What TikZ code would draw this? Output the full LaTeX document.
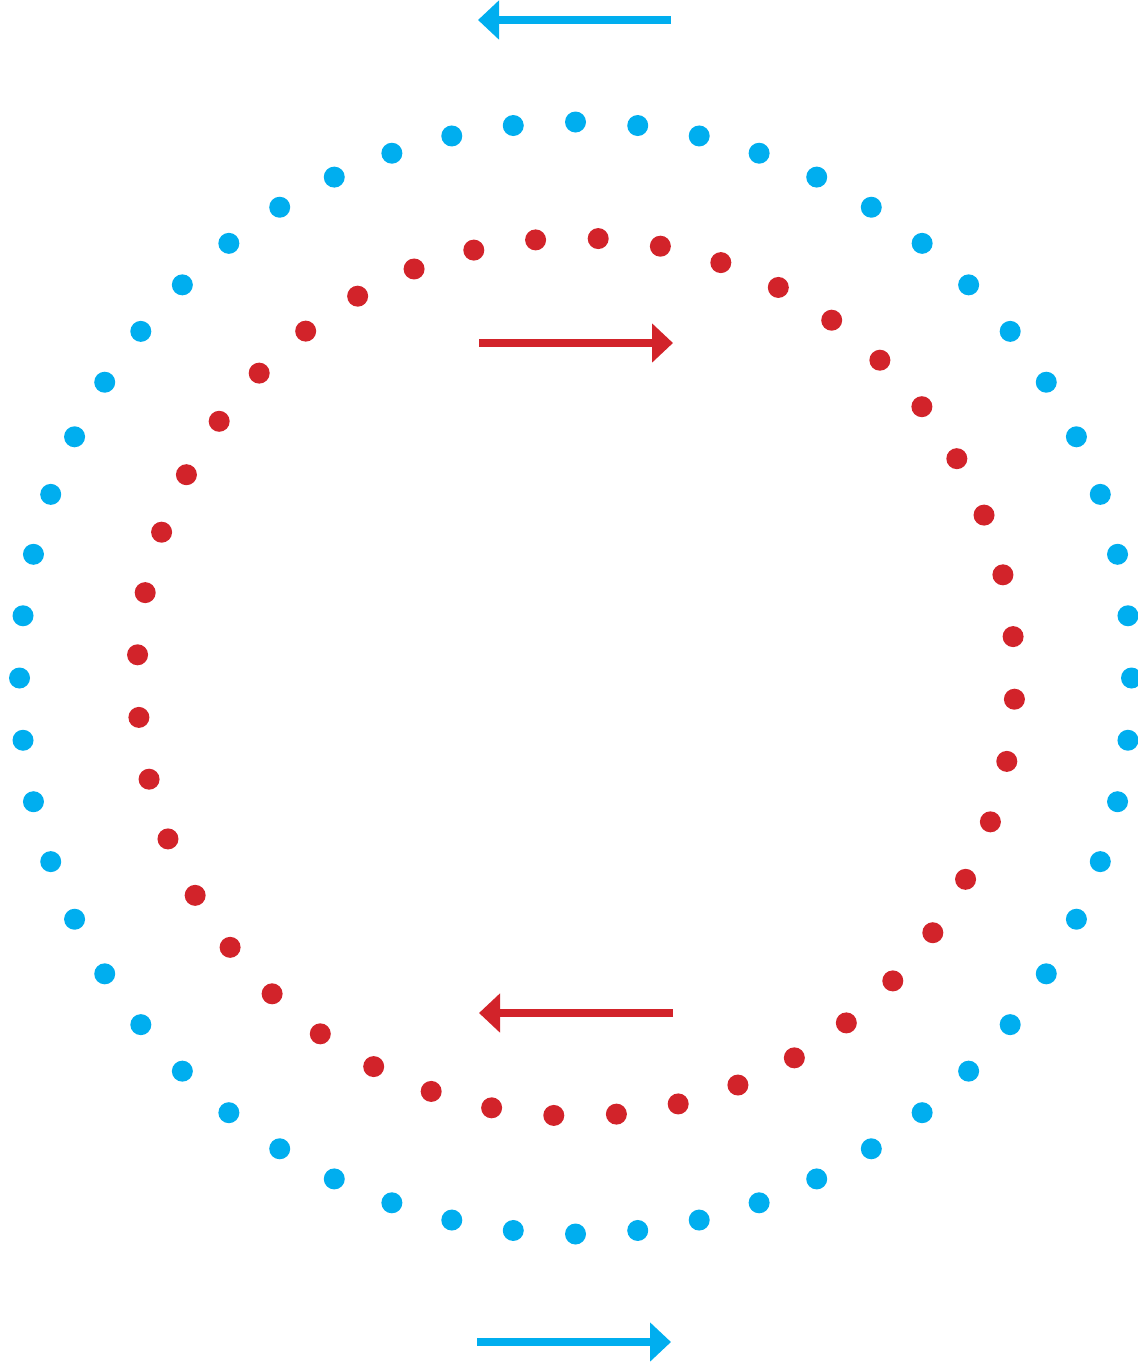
\documentclass[tikz,border=0pt]{standalone}
\usetikzlibrary{arrows.meta}

\definecolor{flowblue}{HTML}{00AEEF}
\definecolor{flowred}{HTML}{D2232A}

\tikzset{
	bluedot/.style={fill=flowblue},
	reddot/.style={fill=flowred},
	flowarrow/.style={line width=8*0.02cm, -{Triangle[length=0.42cm, width=0.76cm]}},
}

\begin{document}
\begin{tikzpicture}[x=0.02cm, y=-0.02cm]

		\useasboundingbox (0,0) rectangle (1138,1370);

		% --- Centres ---
		\coordinate (outerc) at (575.5,678);
		\coordinate (innerc) at (576,677);

		% --- Outer ring (blue) ---
		\foreach \k in {0,...,55} {
			\fill[bluedot] ([shift={({-90+\k*(360/56)}:556)}]outerc) circle[radius=10.5];
		}

		% --- Inner ring (red) ---
		\foreach \k in {0,...,43} {
			\fill[reddot] ([shift={({-87.1+\k*(360/44)}:439)}]innerc) circle[radius=10.5];
		}

		% --- Arrows ---
		\coordinate (outertopR) at (671,20);
		\coordinate (outertopL) at (478,20);
		\coordinate (innertopL) at (479,343);
		\coordinate (innertopR) at (673,343);
		\coordinate (innerbotR) at (673,1013);
		\coordinate (innerbotL) at (479,1013);
		\coordinate (outerbotL) at (477,1342);
		\coordinate (outerbotR) at (671,1342);

		\draw[flowarrow, flowblue] (outertopR) -- (outertopL);
		\draw[flowarrow, flowred] (innertopL) -- (innertopR);
		\draw[flowarrow, flowred] (innerbotR) -- (innerbotL);
		\draw[flowarrow, flowblue] (outerbotL) -- (outerbotR);

	\end{tikzpicture}
\end{document}
